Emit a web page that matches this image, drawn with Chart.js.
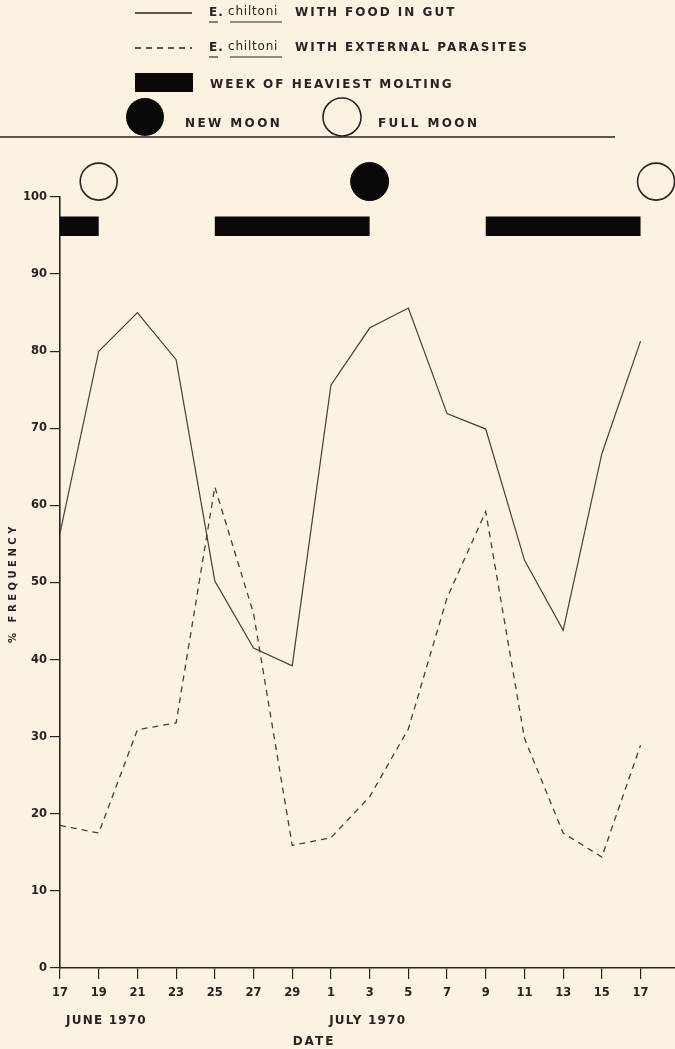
<!DOCTYPE html>
<html><head><meta charset="utf-8">
<script src="https://cdn.jsdelivr.net/npm/chart.js@4.4.1/dist/chart.umd.min.js"></script>
<style>
html,body{margin:0;padding:0;background:#fcf2e2;}
#wrap{width:675px;height:1049px;position:relative;overflow:hidden}
canvas{display:block}
</style>
</head><body><div id="wrap"><canvas id="c" width="675" height="1049"></canvas></div>
<script>
// ---- data (days counted from 17 June 1970) ----
const dayOffsets = [0,2,4,6,8,10,12,14,16,18,20,22,24,26,28,30];
const dateLabels = ['17','19','21','23','25','27','29','1','3','5','7','9','11','13','15','17'];
const foodInGut = [56.4,80.0,85.0,78.9,50.2,41.5,39.2,75.6,83.0,85.6,71.9,69.9,52.9,43.8,66.7,81.3];
const externalParasites = [18.5,17.5,30.9,31.8,62.4,46.0,15.9,16.9,22.2,31.0,48.0,59.2,29.8,17.5,14.4,28.9];
const moltingStart = [0,8,22];
const moltingEnd = [2,16,30];
const moltingLevel = 96.2;
const newMoonDays = [16];
const fullMoonDays = [2,30.8];
const moonLevel = 102;
const monthLabels = ['JUNE 1970','JULY 1970'];

const INK = '#2b221f';
const BLACK = '#0b0908';
const LINE = '#4a3c37';
const BG = '#fcf2e2';
const FONT = '"DejaVu Sans", sans-serif';

const solidPts = dayOffsets.map((d,i)=>({x:d,y:foodInGut[i]}));
const dashPts = dayOffsets.map((d,i)=>({x:d,y:externalParasites[i]}));
const moltPts = [];
moltingStart.forEach((s,i)=>{ moltPts.push({x:s,y:moltingLevel},{x:moltingEnd[i],y:moltingLevel},{x:moltingEnd[i],y:null}); });
const newMoonPts = newMoonDays.map(d=>({x:d,y:moonLevel}));
const fullMoonPts = fullMoonDays.map(d=>({x:d,y:moonLevel}));

function spaced(ctx, text, x, y, spacing, align){
  ctx.letterSpacing = spacing + 'px';
  ctx.textAlign = align || 'left';
  ctx.fillText(text, x, y);
  ctx.letterSpacing = '0px';
}

const bgPlugin = {
  id:'bg',
  beforeDraw(chart){
    const c=chart.ctx; c.save(); c.fillStyle=BG; c.fillRect(0,0,chart.width,chart.height); c.restore();
  }
};

const annot = {
  id:'annot',
  afterDraw(chart){
    const ctx = chart.ctx;
    const xs = chart.scales.x;
    ctx.save();
    ctx.strokeStyle = INK; ctx.fillStyle = INK;
    ctx.textBaseline = 'middle';
    // legend row 1: solid line
    ctx.lineWidth = 1.3;
    ctx.beginPath(); ctx.moveTo(135,13); ctx.lineTo(192,13); ctx.stroke();
    // legend row 2: dashed
    ctx.setLineDash([6,5]);
    ctx.beginPath(); ctx.moveTo(135,48); ctx.lineTo(192,48); ctx.stroke();
    ctx.setLineDash([]);
    // legend row 3: bar
    ctx.fillStyle = BLACK;
    ctx.fillRect(135,73,58,19);
    // legend row 4: circles
    ctx.beginPath(); ctx.arc(145,117,19,0,Math.PI*2); ctx.fill();
    ctx.fillStyle = INK;
    ctx.lineWidth = 1.6;
    ctx.beginPath(); ctx.arc(342,117,19,0,Math.PI*2); ctx.stroke();
    // rule
    ctx.lineWidth = 1.5;
    ctx.beginPath(); ctx.moveTo(0,137); ctx.lineTo(615,137); ctx.stroke();

    // legend texts
    const rows = [[13,'WITH FOOD IN GUT'],[48,'WITH EXTERNAL PARASITES']];
    rows.forEach(([y,t])=>{
      ctx.font = 'bold 12px ' + FONT;
      spaced(ctx,'E.',209,y,1);
      ctx.font = '12px ' + FONT;
      spaced(ctx,'chiltoni',228,y-1,0.8);
      ctx.lineWidth = 1.1;
      ctx.beginPath(); ctx.moveTo(209,y+9); ctx.lineTo(218,y+9); ctx.stroke();
      ctx.beginPath(); ctx.moveTo(230,y+9); ctx.lineTo(282,y+9); ctx.stroke();
      ctx.font = 'bold 12px ' + FONT;
      spaced(ctx,t,295,y,2.0);
    });
    ctx.font = 'bold 12px ' + FONT;
    spaced(ctx,'WEEK OF HEAVIEST MOLTING',210,85,2.0);
    spaced(ctx,'NEW MOON',185,124,2.4);
    spaced(ctx,'FULL MOON',378,124,2.4);

    // month labels & axis titles
    ctx.font = 'bold 12px ' + FONT;
    spaced(ctx,monthLabels[0],xs.getPixelForValue(2.4),1021,1.2,'center');
    spaced(ctx,monthLabels[1],xs.getPixelForValue(15.9),1021,1.2,'center');
    spaced(ctx,'DATE',314,1042,2,'center');

    ctx.save();
    ctx.translate(13,583);
    ctx.rotate(-Math.PI/2);
    ctx.font = 'bold 10px ' + FONT;
    spaced(ctx,'% FREQUENCY',0,0,3.5,'center');
    ctx.restore();
    ctx.restore();
  }
};

new Chart(document.getElementById('c'), {
  type:'line',
  data:{ datasets:[
    {data:solidPts, borderColor:LINE, borderWidth:1.2, pointRadius:0, tension:0, fill:false},
    {data:dashPts, borderColor:LINE, borderWidth:1.3, borderDash:[6,5], pointRadius:0, tension:0, fill:false},
    {data:moltPts, borderColor:BLACK, borderWidth:19.5, borderCapStyle:'butt', spanGaps:false, pointRadius:0, fill:false},
    {data:newMoonPts, showLine:false, pointRadius:19, pointBackgroundColor:BLACK, pointBorderColor:BLACK, pointBorderWidth:1, clip:false},
    {data:fullMoonPts, showLine:false, pointRadius:18.5, pointBackgroundColor:'rgba(0,0,0,0)', pointBorderColor:INK, pointBorderWidth:1.6, clip:false}
  ]},
  options:{
    responsive:false, animation:false, devicePixelRatio:1,
    layout:{autoPadding:false, padding:{top:197,left:0,right:0,bottom:0}},
    plugins:{legend:{display:false}, tooltip:{enabled:false}},
    scales:{
      x:{type:'linear', min:0, max:31.78,
        afterFit(s){ s.height = 81; },
        ticks:{stepSize:2, includeBounds:false, autoSkip:false, maxRotation:0, padding:7, color:INK,
          font:{family:FONT, size:11.5, weight:'bold'},
          callback(v){ const i = dayOffsets.indexOf(v); return i>=0 ? dateLabels[i] : ''; }},
        grid:{drawOnChartArea:false, drawTicks:true, tickLength:11, color:INK, lineWidth:1.2},
        border:{display:true, color:INK, width:1.6}
      },
      y:{min:0, max:100,
        afterFit(s){ s.width = 60; },
        ticks:{stepSize:10, padding:3, color:INK, font:{family:FONT, size:11.5, weight:'bold'}},
        grid:{drawOnChartArea:false, drawTicks:true, tickLength:10, color:INK, lineWidth:1.2},
        border:{display:true, color:INK, width:1.6}
      }
    }
  },
  plugins:[bgPlugin, annot]
});
</script>
</body></html>
